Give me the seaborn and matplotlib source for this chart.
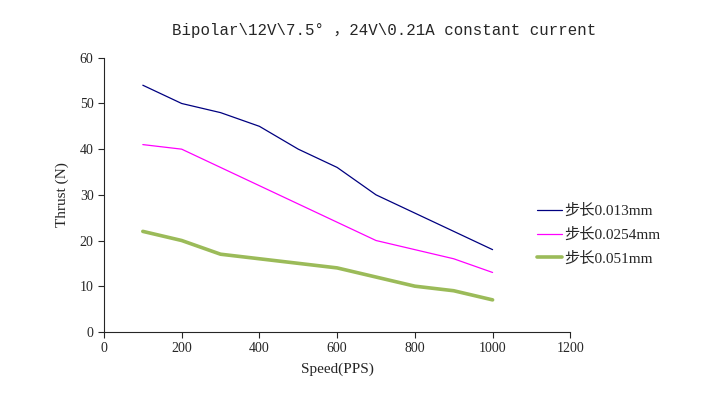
import matplotlib
matplotlib.use("Agg")
import matplotlib.pyplot as plt
import seaborn as sns
import pandas as pd

# data
speed = [100, 200, 300, 400, 500, 600, 700, 800, 900, 1000]
thrust_013 = [54, 50, 48, 45, 40, 36, 30, 26, 22, 18]
thrust_0254 = [41, 40, 36, 32, 28, 24, 20, 18, 16, 13]
thrust_051 = [22, 20, 17, 16, 15, 14, 12, 10, 9, 7]
labels = ["步长0.013mm", "步长0.0254mm", "步长0.051mm"]

sns.set_style("ticks")
plt.rcParams['font.family'] = ['Liberation Serif', 'Noto Sans CJK SC']

df = pd.concat([
    pd.DataFrame({'Speed': speed, 'Thrust': thrust_013, 'series': labels[0]}),
    pd.DataFrame({'Speed': speed, 'Thrust': thrust_0254, 'series': labels[1]}),
    pd.DataFrame({'Speed': speed, 'Thrust': thrust_051, 'series': labels[2]}),
])

fig = plt.figure(figsize=(7.12, 3.96), dpi=100)
ax = fig.add_axes([0.146, 0.162, 0.655, 0.692])

palette = {labels[0]: '#000080', labels[1]: '#FF00FF', labels[2]: '#9BBB59'}
widths = {labels[0]: 0.9, labels[1]: 0.9, labels[2]: 2.6}
for lab in labels:
    sub = df[df['series'] == lab]
    sns.lineplot(data=sub, x='Speed', y='Thrust', color=palette[lab],
                 lw=widths[lab], label=lab, ax=ax, solid_capstyle='round')

ax.set_xlim(0, 1200)
ax.set_ylim(0, 60)
ax.set_xticks(range(0, 1201, 200))
ax.set_yticks(range(0, 61, 10))
sns.despine(ax=ax)
ax.spines['left'].set_linewidth(0.8)
ax.spines['bottom'].set_linewidth(0.8)
ax.tick_params(axis='both', labelsize=10, length=4, width=0.8, direction='out')
ax.set_xlabel("Speed(PPS)", fontsize=11, labelpad=5)
ax.set_ylabel("Thrust (N)", fontsize=11, labelpad=8)

# title is centred on the whole chart area, not on the axes
fig.text(0.539, 0.924, "Bipolar\\12V\\7.5° ，24V\\0.21A constant current",
         ha='center', va='center', fontsize=11.3,
         family=['Liberation Mono', 'Noto Sans CJK SC'])

leg = ax.legend(loc='center left', bbox_to_anchor=(0.735, 0.407),
                bbox_transform=fig.transFigure, frameon=False,
                fontsize=11, handlelength=1.6, handletextpad=0.15, labelspacing=0.62)

fig.savefig("out.png", dpi=100)
